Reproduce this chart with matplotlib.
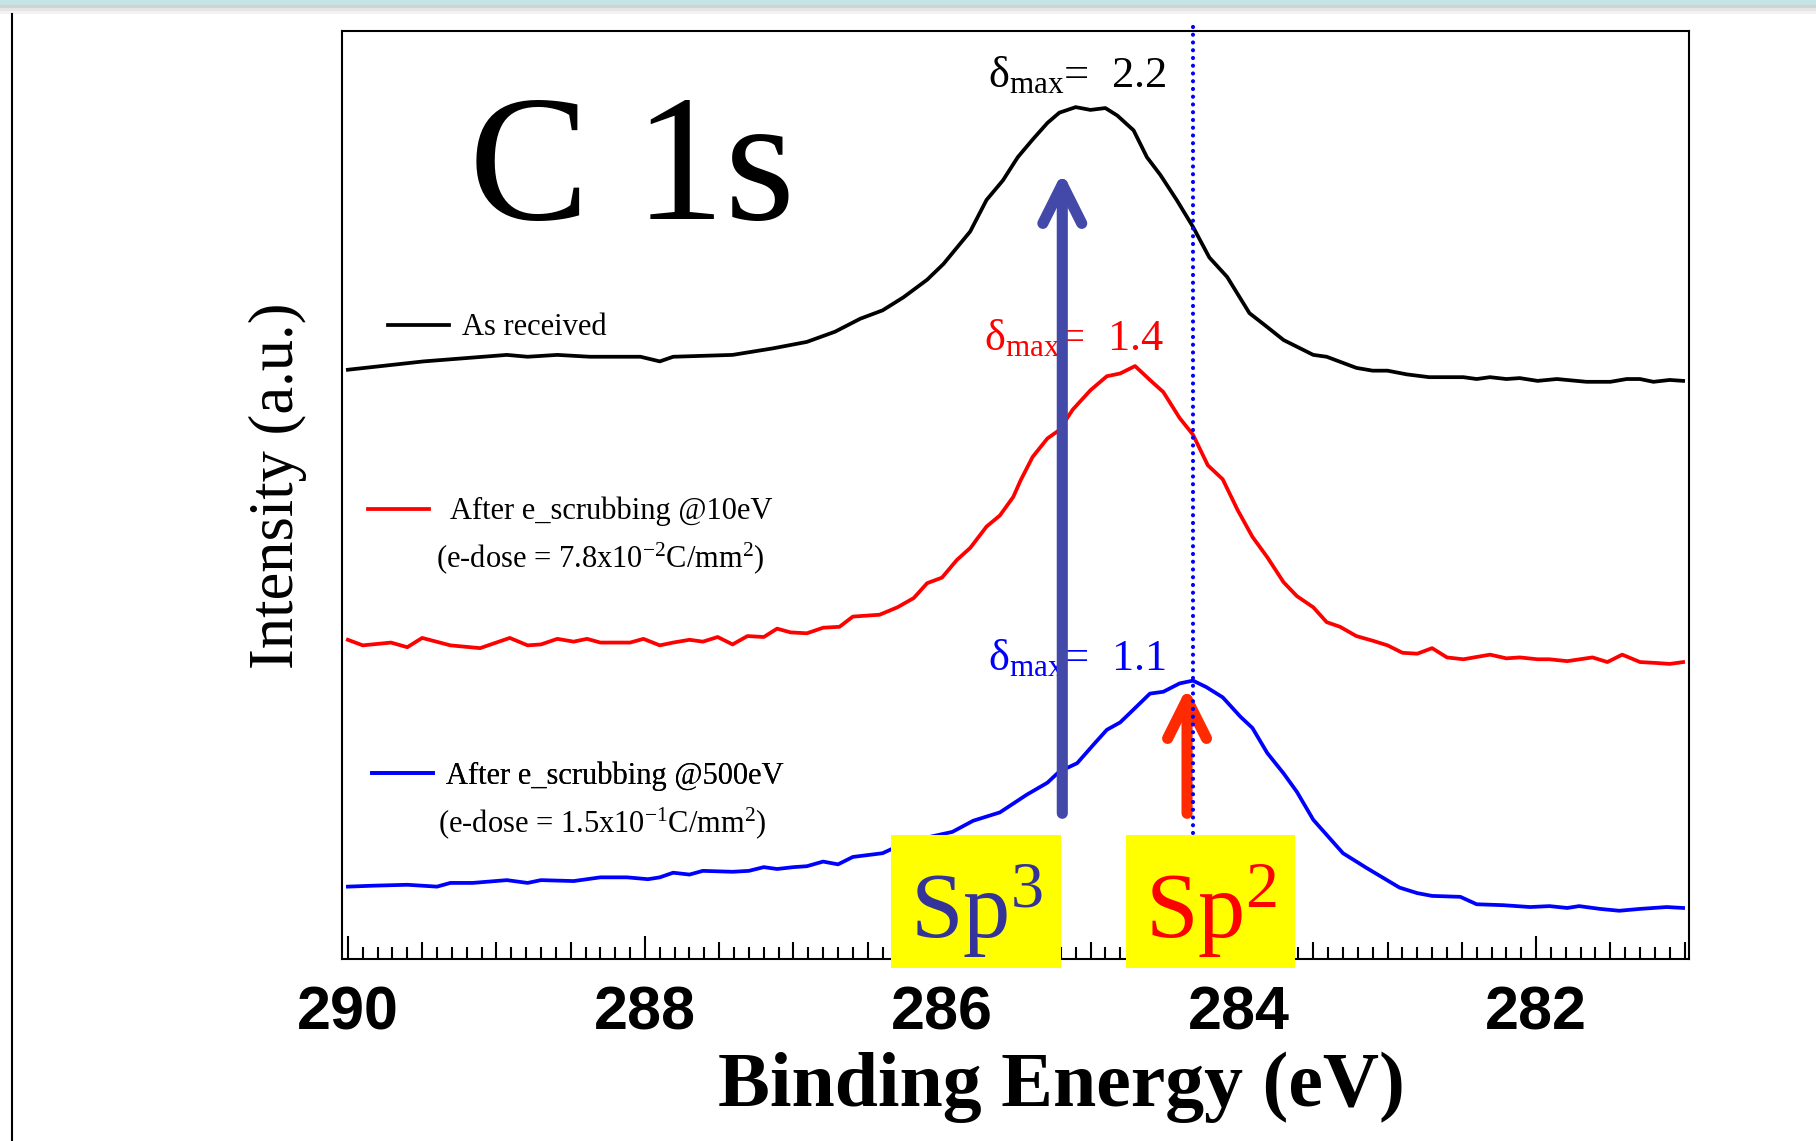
import numpy as np
import matplotlib.pyplot as plt
from matplotlib.patches import Rectangle, ArrowStyle
from matplotlib.lines import Line2D
from matplotlib.ticker import MultipleLocator, FuncFormatter

plt.rcParams['font.family'] = ['Liberation Serif', 'DejaVu Serif']
plt.rcParams['mathtext.fontset'] = 'custom'
plt.rcParams['mathtext.rm'] = 'Liberation Serif'
plt.rcParams['mathtext.it'] = 'Liberation Serif:italic'
plt.rcParams['mathtext.bf'] = 'Liberation Serif:bold'

# C 1s spectra: binding energy (eV) and stacked intensity (a.u.)
energy_received = [290.00, 289.49, 288.93, 288.79, 288.59, 288.37, 288.03, 287.90, 287.81, 287.41,
                   287.14, 286.91, 286.72, 286.55, 286.40, 286.26, 286.10, 285.99, 285.81, 285.70,
                   285.59, 285.49, 285.39, 285.29, 285.21, 285.10, 285.00, 284.90, 284.82, 284.71,
                   284.62, 284.53, 284.42, 284.31, 284.20, 284.08, 283.93, 283.81, 283.70, 283.50,
                   283.41, 283.21, 283.10, 283.00, 282.87, 282.72, 282.49, 282.40, 282.31, 282.20,
                   282.11, 281.99, 281.86, 281.66, 281.50, 281.39, 281.30, 281.21, 281.10, 281.01]
intensity_received = [63.5, 64.4, 65.1, 64.9, 65.1, 64.9, 64.9, 64.4, 64.9, 65.1,
                      65.8, 66.5, 67.6, 69.0, 69.9, 71.3, 73.2, 74.9, 78.4, 81.8,
                      83.9, 86.4, 88.3, 90.1, 91.2, 91.8, 91.5, 91.7, 90.9, 89.3,
                      86.4, 84.5, 81.8, 78.9, 75.6, 73.5, 69.6, 68.1, 66.7, 65.1,
                      64.9, 63.7, 63.4, 63.4, 63.0, 62.7, 62.7, 62.5, 62.7, 62.5,
                      62.6, 62.3, 62.5, 62.2, 62.2, 62.5, 62.5, 62.2, 62.4, 62.3]

energy_10ev = [290.00, 289.90, 289.71, 289.60, 289.50, 289.31, 289.11, 288.91, 288.79, 288.70,
               288.59, 288.48, 288.39, 288.30, 288.10, 288.01, 287.90, 287.81, 287.70, 287.61,
               287.51, 287.41, 287.31, 287.20, 287.11, 287.02, 286.91, 286.80, 286.69, 286.60,
               286.42, 286.30, 286.19, 286.10, 286.00, 285.90, 285.81, 285.70, 285.61, 285.52,
               285.47, 285.39, 285.29, 285.21, 285.12, 285.00, 284.89, 284.80, 284.70, 284.60,
               284.51, 284.40, 284.31, 284.21, 284.11, 284.01, 283.91, 283.81, 283.70, 283.61,
               283.50, 283.41, 283.32, 283.21, 283.10, 283.00, 282.90, 282.80, 282.70, 282.60,
               282.49, 282.31, 282.20, 282.11, 281.99, 281.91, 281.79, 281.62, 281.52, 281.42,
               281.30, 281.19, 281.10, 281.01]
intensity_10ev = [34.4, 33.8, 34.1, 33.6, 34.6, 33.8, 33.5, 34.6, 33.8, 33.9,
                  34.5, 34.2, 34.5, 34.1, 34.1, 34.5, 33.8, 34.1, 34.4, 34.2,
                  34.7, 33.9, 34.8, 34.7, 35.6, 35.2, 35.1, 35.7, 35.8, 36.9,
                  37.1, 37.9, 38.9, 40.5, 41.1, 43.0, 44.3, 46.6, 47.8, 49.8,
                  51.6, 54.1, 56.1, 57.0, 59.2, 61.3, 62.8, 63.1, 63.9, 62.4,
                  61.1, 58.3, 56.5, 53.2, 51.7, 48.4, 45.5, 43.3, 40.6, 39.1,
                  37.9, 36.3, 35.8, 34.8, 34.3, 33.8, 33.0, 32.9, 33.5, 32.5,
                  32.3, 32.8, 32.4, 32.5, 32.3, 32.3, 32.1, 32.5, 32.0, 32.8,
                  32.0, 31.9, 31.8, 32.0]

energy_500ev = [290.00, 289.83, 289.60, 289.40, 289.31, 289.16, 288.93, 288.79, 288.70, 288.48,
                288.30, 288.12, 287.98, 287.90, 287.81, 287.70, 287.61, 287.41, 287.30, 287.20,
                287.11, 287.00, 286.91, 286.80, 286.70, 286.60, 286.40, 286.21, 286.10, 285.93,
                285.79, 285.61, 285.43, 285.29, 285.21, 285.09, 284.98, 284.89, 284.80, 284.69,
                284.60, 284.51, 284.40, 284.31, 284.22, 284.11, 283.99, 283.91, 283.81, 283.70,
                283.61, 283.50, 283.30, 283.14, 282.92, 282.80, 282.70, 282.51, 282.40, 282.22,
                282.04, 281.91, 281.79, 281.71, 281.57, 281.44, 281.30, 281.12, 281.01]
intensity_500ev = [7.8, 7.9, 8.0, 7.8, 8.2, 8.2, 8.5, 8.2, 8.5, 8.4,
                   8.8, 8.8, 8.6, 8.8, 9.3, 9.1, 9.5, 9.4, 9.5, 9.9,
                   9.7, 9.9, 10.0, 10.5, 10.2, 11.0, 11.4, 12.8, 13.1, 13.7,
                   14.9, 15.8, 17.7, 19.0, 20.2, 21.1, 23.1, 24.7, 25.5, 27.2,
                   28.6, 28.8, 29.7, 30.0, 29.3, 28.2, 26.1, 24.9, 22.2, 20.0,
                   18.0, 15.0, 11.4, 9.8, 7.7, 7.1, 6.8, 6.7, 5.9, 5.8,
                   5.6, 5.7, 5.5, 5.7, 5.4, 5.2, 5.4, 5.6, 5.5]

labels = ['As received', 'After e_scrubbing @10eV', 'After e_scrubbing @500eV']
doses = ['', '(e-dose = 7.8x10$^{\\mathrm{-2}}$C/mm$^{\\mathrm{2}}$)',
         '(e-dose = 1.5x10$^{\\mathrm{-1}}$C/mm$^{\\mathrm{2}}$)']
colors = ['black', '#FF0000', '#0000FF']
delta_max = ['2.2', '1.4', '1.1']

sp3_energy = 285.19   # sp3 component arrow
sp2_energy = 284.35   # sp2 component arrow
sp2_peak = 284.31     # dotted reference line

fig = plt.figure(figsize=(18.16, 11.41), dpi=100)
ax = fig.add_axes([0.1883, 0.1595, 0.7418, 0.8133])

curves = [(energy_received, intensity_received),
          (energy_10ev, intensity_10ev),
          (energy_500ev, intensity_500ev)]
for (e, i), c in zip(curves, colors):
    ax.plot(e, i, color=c, lw=2.7, zorder=3)

ax.set_xlim(290.04, 280.97)
ax.set_ylim(0, 100)

# axis styling
for s in ax.spines.values():
    s.set_linewidth(1.5)
ax.set_yticks([])
ax.xaxis.set_major_locator(MultipleLocator(0.5))
ax.xaxis.set_minor_locator(MultipleLocator(0.1))
ax.xaxis.set_major_formatter(FuncFormatter(
    lambda v, p: '%d' % round(v) if round(v * 2) % 4 == 0 else ''))
ax.tick_params(axis='x', which='major', direction='in', length=12, width=1.5,
               pad=19, labelsize=44)
ax.tick_params(axis='x', which='minor', direction='in', length=8.6, width=1.5)
for lab in ax.get_xticklabels():
    lab.set_fontfamily('Liberation Sans')
    lab.set_fontweight('bold')
for loc, tick in zip(ax.xaxis.get_majorticklocs(), ax.xaxis.get_major_ticks()):
    if round(loc * 2) % 4 == 0:
        tick.tick1line.set_markersize(16.5)

ax.set_xlabel('Binding Energy (eV)', fontsize=56, fontweight='bold')
ax.xaxis.set_label_coords(0.534, -0.100)
ax.set_ylabel('Intensity (a.u.)', fontsize=45)
ax.yaxis.set_label_coords(-0.026, 0.51)

ax.text(0.094, 0.797, 'C 1s', transform=ax.transAxes, fontsize=130, va='baseline')

# legend entries, one per curve
legend_pos = [(0.034, 0.680), (0.019, 0.482), (0.022, 0.197)]
legend_pad = [0.42, 0.69, 0.42]
for c, lab, pos, pad in zip(colors, labels, legend_pos, legend_pad):
    h = Line2D([], [], color=c, lw=2.7)
    leg = ax.legend(handles=[h], labels=[lab], loc='center left', bbox_to_anchor=pos,
                    frameon=False, fontsize=22, handlelength=2.0, handletextpad=pad,
                    borderpad=0, borderaxespad=0)
    ax.add_artist(leg)
dose_pos = [None, (0.070, 0.422), (0.071, 0.137)]
for d, pos in zip(doses, dose_pos):
    if d:
        ax.text(pos[0], pos[1], d, transform=ax.transAxes, fontsize=22, va='baseline')

# delta_max labels
delta_pos = [(285.69, 94.0), (285.72, 65.6), (285.69, 31.1)]
for c, dm, pos in zip(colors, delta_max, delta_pos):
    ax.text(pos[0], pos[1], 'δ$_{\\mathrm{max}}$=  ' + dm, fontsize=32, color=c,
            va='baseline', zorder=3)

# component arrows
head = ArrowStyle('->', head_length=28, head_width=14)
ax.annotate('', xy=(sp3_energy, 84.8), xytext=(sp3_energy, 15.7),
            arrowprops=dict(arrowstyle=head, color='#4349A8', lw=8, capstyle='round',
                            joinstyle='round', shrinkA=0, shrinkB=0, mutation_scale=1),
            zorder=4)
ax.annotate('', xy=(sp2_energy, 29.3), xytext=(sp2_energy, 15.7),
            arrowprops=dict(arrowstyle=head, color='#FF2A00', lw=8, capstyle='round',
                            joinstyle='round', shrinkA=0, shrinkB=0, mutation_scale=1),
            zorder=4)
ax.axvline(sp2_peak, ymin=0.136, ymax=1.006, color='#0000FF', lw=3.0,
           linestyle=(0, (0.01, 1.85)), dash_capstyle='round', clip_on=False, zorder=5)

# Sp3 / Sp2 tags
tags = [('Sp$^{\\mathrm{3}}$', '#333399', 285.20, 286.34),
        ('Sp$^{\\mathrm{2}}$', '#FF0000', 283.62, 284.76)]
for txt, c, lo, hi in tags:
    ax.add_patch(Rectangle((lo, -1.0), hi - lo, 14.4, facecolor='#FFFF00',
                           edgecolor='none', clip_on=False, zorder=6))
    ax.text((lo + hi) / 2, 2.3, txt, ha='center', va='baseline', fontsize=68,
            color=c, zorder=7)

# slide decorations: top band and left rule
fig.add_artist(Rectangle((0, 1 - 5 / 1141), 1, 5 / 1141, transform=fig.transFigure,
                         facecolor='#C4E4E6', edgecolor='none'))
for k, a in enumerate([0.35, 0.2, 0.1]):
    fig.add_artist(Rectangle((0, 1 - (8 + 3 * k) / 1141), 1, 3 / 1141,
                             transform=fig.transFigure, facecolor='gray', alpha=a,
                             edgecolor='none'))
fig.add_artist(Line2D([12 / 1816, 12 / 1816], [0, 1 - 14 / 1141],
                      transform=fig.transFigure, color='black', lw=1.5))

fig.savefig('out.png', dpi=100)
